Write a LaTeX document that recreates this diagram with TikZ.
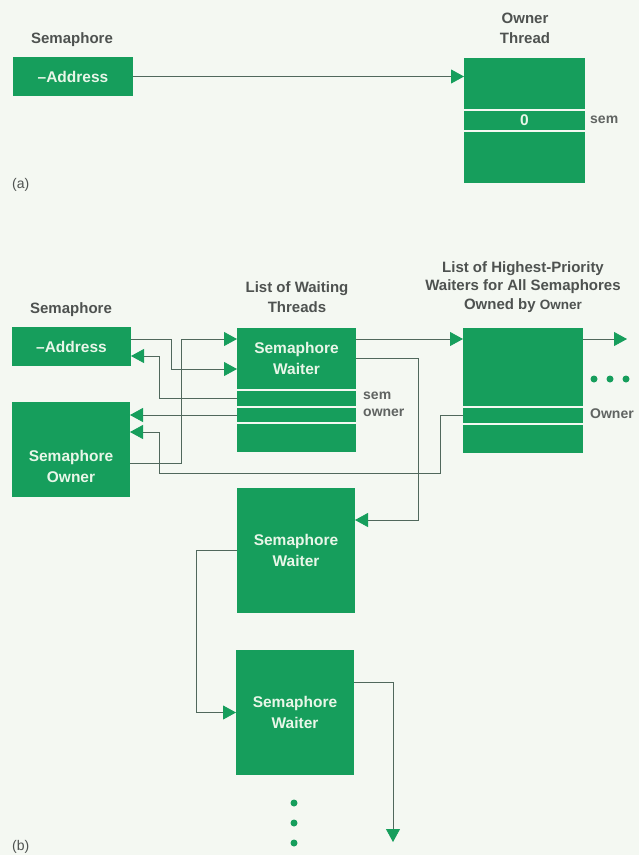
\documentclass[tikz,border=0pt]{standalone}
\usepackage{fontspec}
\setmainfont{Liberation Sans}
\usetikzlibrary{arrows.meta}
\definecolor{grn}{RGB}{22,158,92}
\definecolor{bg}{RGB}{244,248,242}
\definecolor{lin}{RGB}{80,104,92}
\definecolor{hd}{RGB}{78,82,80}
\definecolor{lbl}{RGB}{96,100,98}
\definecolor{bxt}{RGB}{232,246,232}
\begin{document}
\begin{tikzpicture}[x=1pt,y=-1pt,
 field/.style={fill=grn, draw=none, inner sep=0pt, outer sep=0pt, anchor=north west, text=bxt, font=\bfseries\fontsize{15.5}{21}\selectfont, align=center},
 head/.style={text=hd, font=\bfseries\fontsize{15}{20}\selectfont, align=center, inner sep=0pt},
 lab/.style={text=lbl, font=\bfseries\fontsize{14}{17}\selectfont, inner sep=0pt, anchor=west},
 conn/.style={draw=lin, line width=0.8pt},
 arr/.style={conn, -{Triangle[length=13pt,width=14pt,color=grn]}},
 dotmark/.style={circle, fill=grn, inner sep=0pt, minimum size=7pt},
]
\fill[bg] (0,0) rectangle (639,855);
\useasboundingbox (0,0) rectangle (639,855);

% ---------- (a) ----------
\node[head] (semA) at (72,40) {Semaphore};
\node[head] (othA) at (525,28) {Owner\\Thread};
\node[field, minimum width=120pt, minimum height=39pt] (addrA) at (13,57) {–Address};
\node[field, minimum width=121pt, minimum height=51pt] (ot1) at (464,58) {};
\node[field, minimum width=121pt, minimum height=19pt] (ot2) at (464,111) {0};
\node[field, minimum width=121pt, minimum height=51pt] (ot3) at (464,132) {};
\node[lab] (semlA) at (590,120) {sem};
\node[lab, text=hd, font=\fontsize{14}{17}\selectfont] (labA) at (12,185) {(a)};
\draw[arr] (addrA.east) -- (addrA.east -| ot1.west);

% ---------- (b) ----------
\node[head] (semB) at (71,310) {Semaphore};
\node[head] (lwt) at (297,297) {List of Waiting\\Threads};
\node[head, font=\bfseries\fontsize{15}{18.5}\selectfont] (lhp) at (523,287) {List of Highest-Priority\\Waiters for All Semaphores\\Owned by {\fontsize{13.5}{18.5}\selectfont Owner}};

\node[field, minimum width=119pt, minimum height=39pt] (addrB) at (12,327) {–Address};
\node[field, minimum width=118pt, minimum height=95pt] (ownB) at (12,402) {};
\node[text=bxt, font=\bfseries\fontsize{15.5}{21}\selectfont, align=center, inner sep=0pt] (ownT) at (71,466) {Semaphore\\Owner};

\node[field, minimum width=119pt, minimum height=61pt] (w1) at (237,328) {Semaphore\\Waiter};
\node[field, minimum width=119pt, minimum height=15pt] (w1s) at (237,391) {};
\node[field, minimum width=119pt, minimum height=14pt] (w1o) at (237,408) {};
\node[field, minimum width=119pt, minimum height=28pt] (w1r) at (237,424) {};
\node[lab] (seml) at (363,396) {sem};
\node[lab] (ownl) at (363,413) {owner};

\node[field, minimum width=120pt, minimum height=78pt] (h1) at (463,328) {};
\node[field, minimum width=120pt, minimum height=15pt] (h1o) at (463,408) {};
\node[field, minimum width=120pt, minimum height=28pt] (h1r) at (463,425) {};
\node[lab] (ownerl) at (590,414) {Owner};

\node[field, minimum width=118pt, minimum height=125pt] (w2) at (237,488) {Semaphore\\Waiter};
\node[field, minimum width=118pt, minimum height=125pt] (w3) at (236,650) {Semaphore\\Waiter};

\node[dotmark] (d1) at (594,379) {};
\node[dotmark] (d2) at (610,379) {};
\node[dotmark] (d3) at (626,379) {};
\node[dotmark] (d4) at (294,803) {};
\node[dotmark] (d5) at (294,823) {};
\node[dotmark] (d6) at (294,843) {};

\node[lab, text=hd, font=\fontsize{14}{17}\selectfont] (labB) at (12,847) {(b)};

\coordinate (e1) at (159,473);
\coordinate (outh) at (627,339);
\coordinate (outb) at (393,842);

\draw[arr] ([yshift=7.5pt]addrB.east) -- ++(40,0) |- ([yshift=-10.5pt]w1.west);
\draw[arr] ([yshift=-13.5pt]ownB.east) -- ++(51,0) |- ([yshift=19.5pt]w1.west);
\draw[arr] (w1s.west) -- ++(-78,0) |- ([yshift=-9.5pt]addrB.east);
\draw[arr] (w1o.west) -- (w1o.west -| ownB.east);
\draw[arr] (h1o.west) -- ++(-23,0) |- (e1) |- ([yshift=17.5pt]ownB.east);
\draw[arr] ([yshift=19.5pt]w1.east) -- ([yshift=28pt]h1.west);
\draw[arr] ([yshift=28pt]h1.east) -- (outh);
\draw[arr] (w1.east) -- ++(62,0) |- ([yshift=30.5pt]w2.east);
\draw[arr] (w2.west) -- ++(-41,0) |- (w3.west);
\draw[arr] ([yshift=30.5pt]w3.east) -| (outb);
\end{tikzpicture}
\end{document}
